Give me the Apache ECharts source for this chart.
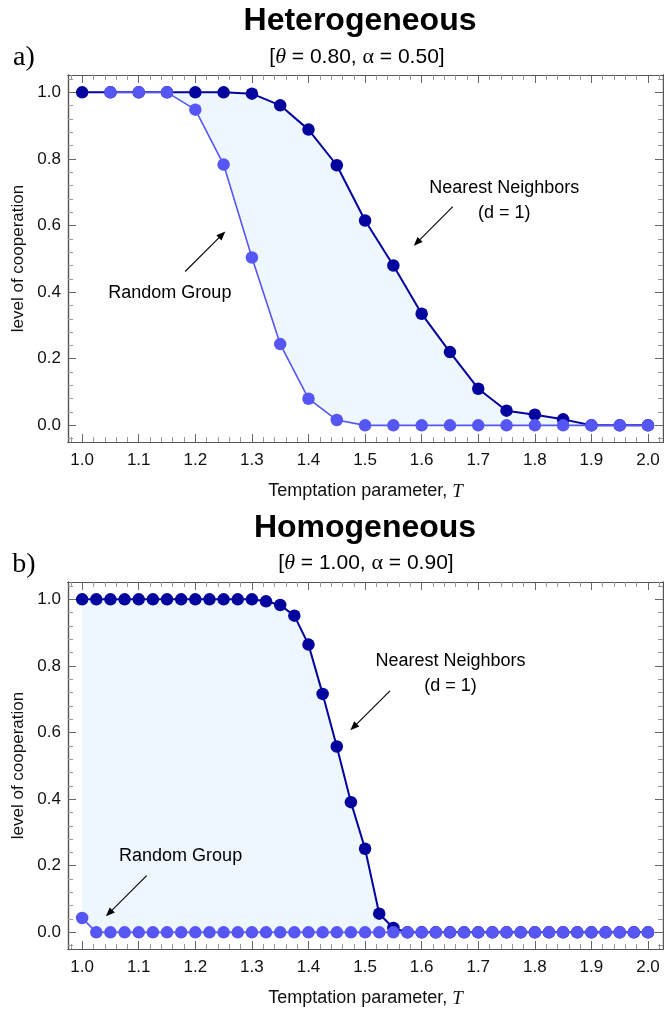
<!DOCTYPE html>
<html><head><meta charset="utf-8">
<script src="https://cdn.jsdelivr.net/npm/echarts@6/dist/echarts.min.js"></script>
<style>html,body{margin:0;padding:0;background:#fff}#c{width:664px;height:1016px}</style>
</head><body><div id="c"></div>
<script>
// ---------- DATA ----------
// (a) Heterogeneous
const hetT = [1.00,1.05,1.10,1.15,1.20,1.25,1.30,1.35,1.40,1.45,1.50,1.55,1.60,1.65,1.70,1.75,1.80,1.85,1.90,1.95,2.00];
const hetNearest = [1.0,1.0,1.0,1.0,1.0,1.0,0.996,0.961,0.888,0.781,0.615,0.480,0.335,0.220,0.110,0.044,0.032,0.018,0.0,0.0,0.0];
const hetRandomT = [1.05,1.10,1.15,1.20,1.25,1.30,1.35,1.40,1.45,1.50,1.55,1.60,1.65,1.70,1.75,1.80,1.85,1.90,1.95,2.00];
const hetRandom = [1.0,1.0,1.0,0.948,0.783,0.504,0.244,0.080,0.016,0.0,0.0,0.0,0.0,0.0,0.0,0.0,0.0,0.0,0.0,0.0];
// (b) Homogeneous
const homT = [1.000,1.025,1.050,1.075,1.100,1.125,1.150,1.175,1.200,1.225,1.250,1.275,1.300,1.325,1.350,1.375,1.400,1.425,1.450,1.475,1.500,1.525,1.550,1.575,1.600,1.625,1.650,1.675,1.700,1.725,1.750,1.775,1.800,1.825,1.850,1.875,1.900,1.925,1.950,1.975,2.000];
const homNearest = [1.0,1.0,1.0,1.0,1.0,1.0,1.0,1.0,1.0,1.0,1.0,1.0,1.0,0.994,0.983,0.951,0.864,0.716,0.558,0.391,0.251,0.056,0.013,0.0,0.0,0.0,0.0,0.0,0.0,0.0,0.0,0.0,0.0,0.0,0.0,0.0,0.0,0.0,0.0,0.0,0.0];
const homRandom = [0.043,0.0,0.0,0.0,0.0,0.0,0.0,0.0,0.0,0.0,0.0,0.0,0.0,0.0,0.0,0.0,0.0,0.0,0.0,0.0,0.0,0.0,0.0,0.0,0.0,0.0,0.0,0.0,0.0,0.0,0.0,0.0,0.0,0.0,0.0,0.0,0.0,0.0,0.0,0.0,0.0];
// tick labels
const xTickValues = [1.0,1.1,1.2,1.3,1.4,1.5,1.6,1.7,1.8,1.9,2.0];
const yTickValues = [0.0,0.2,0.4,0.6,0.8,1.0];
// annotations [x, y, text]
const hetLabels = [[1.746,0.675,'Nearest Neighbors\n(d = 1)'],[1.155,0.397,'Random Group']];
const hetArrows = [[[1.655,0.657],[1.586,0.539]],[[1.182,0.462],[1.253,0.582]]];
const homLabels = [[1.651,0.777,'Nearest Neighbors\n(d = 1)'],[1.174,0.230,'Random Group']];
const homArrows = [[[1.544,0.725],[1.474,0.607]],[[1.114,0.170],[1.042,0.048]]];

// ---------- STYLE ----------
const FONT = "'Liberation Sans', Arial, Helvetica, sans-serif";
const SERIF = "'Liberation Serif', 'Times New Roman', serif";
const DARK = '#03039E', LIGHT = '#5656F5', FILL = '#EEF6FE';
const FRAME = '#555', MAJOR = '#666', MINOR = '#999';
const X_MIN = 0.975, X_MAX = 2.0265, Y_MIN = -0.05, Y_MAX = 1.052;

const xMinor = [];
for (let i = 49; i <= 101; i++) if (i % 5 !== 0) xMinor.push(Math.round(i * 2) / 100);
const yMinor = [];
for (let i = -1; i <= 26; i++) if (i % 5 !== 0) yMinor.push(Math.round(i * 4) / 100);

function xAxes(g) {
  const base = {gridIndex: g, type: 'value', min: X_MIN, max: X_MAX, splitLine: {show: false},
    axisLine: {show: true, onZero: false, lineStyle: {color: FRAME, width: 1.2}}, axisLabel: {show: false}};
  const maj = {show: true, inside: true, length: 8, lineStyle: {color: MAJOR, width: 1}, customValues: xTickValues};
  const min = {show: true, inside: true, length: 5, lineStyle: {color: MINOR, width: 1}, customValues: xMinor};
  return [
    Object.assign({}, base, {position: 'bottom', axisTick: maj,
      axisLabel: {show: true, customValues: xTickValues, formatter: v => v.toFixed(1), margin: 10,
        color: '#111', fontSize: 17, fontFamily: FONT},
      name: 'Temptation parameter, {it|T}', nameLocation: 'middle', nameGap: 40,
      nameTextStyle: {color: '#111', fontSize: 18, fontFamily: FONT,
        rich: {it: {fontFamily: SERIF, fontStyle: 'italic', fontSize: 19, color: '#111'}}}}),
    Object.assign({}, base, {position: 'bottom', axisTick: min}),
    Object.assign({}, base, {position: 'top', axisTick: maj}),
    Object.assign({}, base, {position: 'top', axisTick: min})
  ];
}
function yAxes(g) {
  const base = {gridIndex: g, type: 'value', min: Y_MIN, max: Y_MAX, splitLine: {show: false},
    axisLine: {show: true, onZero: false, lineStyle: {color: FRAME, width: 1.2}}, axisLabel: {show: false}};
  const maj = {show: true, inside: true, length: 8, lineStyle: {color: MAJOR, width: 1}, customValues: yTickValues};
  const min = {show: true, inside: true, length: 5, lineStyle: {color: MINOR, width: 1}, customValues: yMinor};
  return [
    Object.assign({}, base, {position: 'left', axisTick: maj,
      axisLabel: {show: true, customValues: yTickValues, formatter: v => v.toFixed(1), margin: 7,
        color: '#111', fontSize: 17, fontFamily: FONT},
      name: 'level of cooperation', nameLocation: 'middle', nameGap: 37,
      nameTextStyle: {color: '#111', fontSize: 17, fontFamily: FONT}}),
    Object.assign({}, base, {position: 'left', axisTick: min}),
    Object.assign({}, base, {position: 'right', axisTick: maj}),
    Object.assign({}, base, {position: 'right', axisTick: min})
  ];
}

function pairs(xs, ys) { return xs.map((x, i) => [x, ys[i]]); }

function panelSeries(g, nT, nY, rT, rY, labels, arrows) {
  const ax = g * 4;
  const upper = pairs(nT, nY);
  const lower = pairs(rT, rY);
  return [
    { type: 'custom', xAxisIndex: ax, yAxisIndex: ax, z: 1, silent: true,
      data: [[nT[0], nY[0]]],
      renderItem: function (params, api) {
        const pts = upper.map(p => api.coord(p)).concat(lower.slice().reverse().map(p => api.coord(p)));
        return {type: 'polygon', shape: {points: pts}, style: {fill: FILL, stroke: null}};
      }
    },
    { type: 'line', xAxisIndex: ax, yAxisIndex: ax, z: 2, data: upper,
      symbol: 'circle', symbolSize: 12.5, showSymbol: true,
      lineStyle: {color: DARK, width: 2}, itemStyle: {color: DARK} },
    { type: 'line', xAxisIndex: ax, yAxisIndex: ax, z: 3, data: lower,
      symbol: 'circle', symbolSize: 12.5, showSymbol: true,
      lineStyle: {color: LIGHT, width: 1.6}, itemStyle: {color: LIGHT} },
    // text annotations
    { type: 'custom', xAxisIndex: ax, yAxisIndex: ax, z: 4, silent: true,
      data: labels,
      renderItem: function (params, api) {
        const p = api.coord([api.value(0), api.value(1)]);
        return {type: 'text', style: {text: labels[params.dataIndex][2], x: p[0], y: p[1],
          align: 'center', verticalAlign: 'middle', textAlign: 'center', textVerticalAlign: 'middle',
          font: "18px " + FONT, lineHeight: 25, fill: '#000'}};
      }
    },
    // arrows
    { type: 'custom', xAxisIndex: ax, yAxisIndex: ax, z: 4, silent: true,
      data: arrows.map(a => [a[0][0], a[0][1], a[1][0], a[1][1]]),
      renderItem: function (params, api) {
        const s = api.coord([api.value(0), api.value(1)]);
        const e = api.coord([api.value(2), api.value(3)]);
        const dx = e[0] - s[0], dy = e[1] - s[1];
        const L = Math.sqrt(dx * dx + dy * dy), ux = dx / L, uy = dy / L;
        const hl = 9, hw = 3.6;
        const bx = e[0] - ux * hl, by = e[1] - uy * hl;
        return {type: 'group', children: [
          {type: 'line', shape: {x1: s[0], y1: s[1], x2: bx + ux * 2, y2: by + uy * 2},
            style: {stroke: '#000', lineWidth: 1.1}},
          {type: 'polygon', shape: {points: [e, [bx - uy * hw, by + ux * hw], [bx + uy * hw, by - ux * hw]]},
            style: {fill: '#000'}}
        ]};
      }
    }
  ];
}

const chart = echarts.init(document.getElementById('c'), null, {renderer: 'canvas'});
chart.setOption({
  animation: false,
  backgroundColor: '#fff',
  grid: [
    {left: 68, top: 75, width: 595, height: 367, containLabel: false},
    {left: 68, top: 582, width: 595, height: 367, containLabel: false}
  ],
  xAxis: xAxes(0).concat(xAxes(1)),
  yAxis: yAxes(0).concat(yAxes(1)),
  series: panelSeries(0, hetT, hetNearest, hetRandomT, hetRandom, hetLabels, hetArrows)
    .concat(panelSeries(1, homT, homNearest, homT, homRandom, homLabels, homArrows)),
  graphic: [
    {type: 'text', style: {text: 'Heterogeneous', x: 360, y: 21.5, align: 'center', verticalAlign: 'middle',
      textAlign: 'center', textVerticalAlign: 'middle', font: "bold 32px " + FONT, fill: '#000'}},
    {type: 'text', style: {text: '[{th|θ} = 0.80, {al|α} = 0.50]', x: 357, y: 57, align: 'center', verticalAlign: 'middle',
      textAlign: 'center', textVerticalAlign: 'middle', font: "21px " + FONT, fill: '#000',
      rich: {th: {fontFamily: SERIF, fontStyle: 'italic', fontSize: 22}, al: {fontFamily: SERIF, fontSize: 22}}}},
    {type: 'text', style: {text: 'a)', x: 24, y: 58, align: 'center', verticalAlign: 'middle',
      textAlign: 'center', textVerticalAlign: 'middle', font: "28px " + SERIF, fill: '#000'}},
    {type: 'text', style: {text: 'Homogeneous', x: 365, y: 528, align: 'center', verticalAlign: 'middle',
      textAlign: 'center', textVerticalAlign: 'middle', font: "bold 32px " + FONT, fill: '#000'}},
    {type: 'text', style: {text: '[{th|θ} = 1.00, {al|α} = 0.90]', x: 366, y: 563, align: 'center', verticalAlign: 'middle',
      textAlign: 'center', textVerticalAlign: 'middle', font: "21px " + FONT, fill: '#000',
      rich: {th: {fontFamily: SERIF, fontStyle: 'italic', fontSize: 22}, al: {fontFamily: SERIF, fontSize: 22}}}},
    {type: 'text', style: {text: 'b)', x: 24, y: 565, align: 'center', verticalAlign: 'middle',
      textAlign: 'center', textVerticalAlign: 'middle', font: "28px " + SERIF, fill: '#000'}}
  ]
});
</script>
</body></html>
